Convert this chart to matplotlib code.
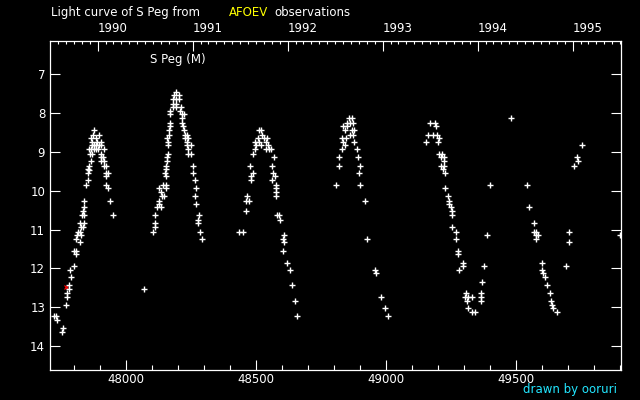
import datetime as dt
import matplotlib
matplotlib.use("Agg")
import matplotlib.pyplot as plt
from matplotlib.ticker import MultipleLocator, FixedLocator

# light curve points (JD - 2400000, visual magnitude), one list per season
season_1989 = [
    (47725, 13.24), (47733, 13.24), (47735, 13.34), (47758, 13.55), (47754, 13.65),
    (47770, 12.95), (47776, 12.75), (47775, 12.64), (47781, 12.54), (47781, 12.44),
    (47788, 12.23), (47785, 12.05), (47800, 11.95), (47800, 11.54), (47810, 11.54),
    (47810, 11.64), (47808, 11.25), (47823, 11.33), (47812, 11.15), (47827, 11.15),
    (47817, 11.05), (47823, 11.05), (47825, 10.84), (47838, 10.84), (47827, 10.94),
    (47835, 10.94), (47831, 10.63), (47838, 10.63), (47837, 10.53), (47841, 10.43),
    (47840, 10.25), (47846, 9.84), (47854, 9.73), (47854, 9.53), (47858, 9.47),
    (47854, 9.44), (47858, 9.35), (47865, 9.24), (47861, 9.04), (47869, 9.04),
    (47859, 8.93), (47865, 8.93), (47877, 8.93), (47884, 8.93), (47894, 8.93),
    (47869, 8.83), (47877, 8.83), (47886, 8.83), (47896, 8.83), (47906, 8.83),
    (47872, 8.73), (47888, 8.73), (47904, 8.73), (47867, 8.65), (47884, 8.65),
    (47874, 8.55), (47896, 8.55), (47877, 8.44),
    (47915, 8.93), (47904, 9.04), (47906, 9.14), (47914, 9.14), (47906, 9.24),
    (47915, 9.24), (47918, 9.35), (47924, 9.35), (47924, 9.53), (47930, 9.53),
    (47923, 9.63), (47926, 9.84), (47930, 9.94), (47938, 10.25), (47953, 10.63),
    (48072, 12.54),
]
season_1990 = [
    (48103, 11.05), (48113, 10.94), (48113, 10.84), (48114, 10.63), (48122, 10.43),
    (48137, 10.43), (48129, 10.35), (48129, 10.25), (48140, 10.14), (48147, 10.14),
    (48136, 10.04), (48129, 9.94), (48156, 9.94), (48145, 9.84), (48156, 9.84),
    (48156, 9.63), (48152, 9.53), (48156, 9.45), (48156, 9.35), (48160, 9.24),
    (48160, 9.14), (48164, 9.04), (48164, 8.83), (48164, 8.73), (48160, 8.65),
    (48168, 8.55), (48168, 8.44), (48172, 8.34), (48172, 8.24), (48170, 8.03),
    (48172, 7.93), (48183, 7.85), (48194, 7.85), (48183, 7.75), (48194, 7.75),
    (48183, 7.64), (48194, 7.64), (48204, 7.64), (48187, 7.54), (48206, 7.54),
    (48194, 7.44),
    (48210, 7.93), (48214, 7.85), (48217, 8.03), (48225, 8.03), (48217, 8.13),
    (48217, 8.24), (48221, 8.34), (48225, 8.44), (48229, 8.55), (48237, 8.55),
    (48229, 8.65), (48240, 8.65), (48237, 8.73), (48237, 8.83), (48252, 8.83),
    (48240, 8.93), (48240, 9.04), (48252, 9.04), (48260, 9.35), (48260, 9.53),
    (48267, 9.73), (48271, 9.94), (48267, 10.14), (48271, 10.35), (48283, 10.63),
    (48279, 10.74), (48279, 10.84), (48285, 11.05), (48294, 11.25),
]
season_1991 = [
    (48436, 11.05), (48451, 11.05), (48462, 10.53), (48462, 10.25), (48474, 10.25),
    (48466, 10.14), (48482, 9.73), (48482, 9.63), (48488, 9.53), (48478, 9.35),
    (48489, 9.04), (48497, 8.93), (48501, 8.83), (48521, 8.83), (48497, 8.73),
    (48511, 8.73), (48508, 8.65), (48531, 8.65), (48542, 8.65), (48524, 8.55),
    (48512, 8.44), (48521, 8.44), (48539, 8.73), (48547, 8.83), (48539, 8.93),
    (48551, 8.93), (48558, 8.93), (48570, 9.14), (48562, 9.35), (48566, 9.53),
    (48574, 9.63), (48562, 9.73), (48577, 9.84), (48577, 9.94), (48577, 10.04),
    (48577, 10.14), (48581, 10.63), (48589, 10.63), (48593, 10.74), (48608, 11.15),
    (48604, 11.25), (48608, 11.33), (48604, 11.54), (48619, 11.85), (48631, 12.05),
    (48639, 12.44), (48650, 12.85), (48658, 13.24),
]
season_1992 = [
    (48807, 9.84), (48819, 9.35), (48819, 9.14), (48830, 8.93), (48842, 8.83),
    (48830, 8.65), (48845, 8.65), (48834, 8.73), (48842, 8.44), (48835, 8.34),
    (48849, 8.34), (48849, 8.24), (48863, 8.24), (48872, 8.24), (48857, 8.13),
    (48868, 8.13), (48861, 8.55), (48872, 8.55), (48868, 8.44), (48876, 8.44),
    (48876, 8.73), (48890, 8.93), (48891, 9.14), (48899, 9.35), (48895, 9.53),
    (48899, 9.84), (48918, 10.25), (48926, 11.25), (48956, 12.05), (48960, 12.13),
    (48979, 12.75), (48995, 13.03), (49006, 13.24),
]
season_1993 = [
    (49171, 8.24), (49190, 8.24), (49194, 8.34), (49163, 8.55), (49182, 8.55),
    (49198, 8.55), (49155, 8.73), (49203, 8.65), (49201, 8.73), (49205, 9.04),
    (49217, 9.04), (49213, 9.14), (49224, 9.14), (49222, 9.24), (49213, 9.35),
    (49224, 9.35), (49221, 9.45), (49228, 9.53), (49228, 9.94), (49240, 10.14),
    (49241, 10.25), (49241, 10.35), (49251, 10.43), (49255, 10.53), (49255, 10.63),
    (49255, 10.94), (49270, 11.05), (49270, 11.25), (49276, 11.54), (49278, 11.64),
    (49297, 11.85), (49295, 11.95), (49282, 12.05), (49309, 12.64), (49305, 12.75),
    (49314, 12.75), (49312, 12.85), (49315, 13.03), (49332, 13.13), (49343, 13.13),
    (49332, 12.75), (49366, 12.64), (49364, 12.75), (49366, 12.85), (49370, 12.34),
    (49378, 11.95), (49389, 11.15), (49401, 9.84), (49481, 8.13),
]
season_1994 = [
    (49542, 9.84), (49550, 10.43), (49569, 10.84), (49569, 11.05), (49577, 11.05),
    (49584, 11.15), (49577, 11.15), (49577, 11.25), (49600, 11.85), (49600, 12.05),
    (49603, 12.13), (49611, 12.23), (49619, 12.44), (49630, 12.64), (49634, 12.85),
    (49638, 12.95), (49642, 13.03), (49657, 13.13), (49703, 11.05), (49703, 11.33),
    (49691, 11.95), (49722, 9.35), (49734, 9.14), (49737, 9.24), (49753, 8.83),
    (49899, 11.15),
]
# the one highlighted (red) estimate
red_point = [(47770, 12.48)]

year_labels = ["1990", "1991", "1992", "1993", "1994", "1995"]
mag_ticks = [7, 8, 9, 10, 11, 12, 13, 14]

JD_MIN, JD_MAX = 47709, 49902
MAG_FAINT, MAG_BRIGHT = 14.62, 6.13
FS = 8.5


def jd_of(year, month):
    # JD - 2400000 of the first day of a month
    return dt.date(year, month, 1).toordinal() - dt.date(1858, 11, 17).toordinal() + 0.5


fig = plt.figure(figsize=(6.4, 4), dpi=100, facecolor="black")
ax = fig.add_axes([50 / 640, 30 / 400, 570.7 / 640, 329.3 / 400])
ax.set_facecolor("black")

for season in [season_1989, season_1990, season_1991, season_1992, season_1993, season_1994]:
    xs = [p[0] for p in season]
    ys = [p[1] for p in season]
    ax.plot(xs, ys, linestyle="none", marker="+", color="white",
            markersize=4.2, markeredgewidth=1.0, antialiased=False)
ax.plot([p[0] for p in red_point], [p[1] for p in red_point], linestyle="none",
        marker="x", color="red", markersize=3, markeredgewidth=0.9, zorder=1)

ax.set_xlim(JD_MIN, JD_MAX)
ax.set_ylim(MAG_FAINT, MAG_BRIGHT)

ax.xaxis.set_major_locator(MultipleLocator(500))
ax.xaxis.set_minor_locator(MultipleLocator(100))
ax.set_yticks(mag_ticks)
ax.tick_params(axis="both", which="both", direction="in", color="white",
               labelcolor="white", labelsize=FS, width=0.8)
ax.tick_params(axis="x", which="major", length=7.2, pad=2.5)
ax.tick_params(axis="x", which="minor", length=3.6)
ax.tick_params(axis="y", which="major", length=7.5, right=True, pad=3.5)
for sp in ax.spines.values():
    sp.set_color("white")
    sp.set_linewidth(0.9)

# calendar axis on top: years labelled, months as small ticks
ax2 = ax.twiny()
ax2.set_xlim(JD_MIN, JD_MAX)
year_pos = [jd_of(int(y), 1) for y in year_labels]
ax2.set_xticks(year_pos)
ax2.set_xticklabels(year_labels)
month_pos = [jd_of(y, m) for y in range(1989, 1997) for m in range(1, 13)]
month_pos = [m for m in month_pos if JD_MIN < m < JD_MAX]
ax2.xaxis.set_minor_locator(FixedLocator(month_pos))
ax2.tick_params(axis="x", which="both", direction="in", color="white",
                labelcolor="white", labelsize=FS, width=0.8)
ax2.tick_params(axis="x", which="major", length=7.2, pad=4)
ax2.tick_params(axis="x", which="minor", length=2.4)
for lab in ax2.get_xticklabels():
    lab.set_horizontalalignment("left")
for sp in ax2.spines.values():
    sp.set_visible(False)

# titles
ty = 1 - 12.7 / 400
fig.text(51 / 640, ty, "Light curve of S Peg from", color="white", fontsize=FS, va="center")
fig.text(229 / 640, ty, "AFOEV", color="yellow", fontsize=FS, va="center")
fig.text(274.5 / 640, ty, "observations", color="white", fontsize=FS, va="center")
fig.text(150.5 / 640, 1 - 60 / 400, "S Peg (M)", color="white", fontsize=FS, va="center")
fig.text(617 / 640, 1 - 390 / 400, "drawn by ooruri", color="#22e6ff", fontsize=FS,
         va="center", ha="right")

fig.savefig("out.png", dpi=100, facecolor="black")
